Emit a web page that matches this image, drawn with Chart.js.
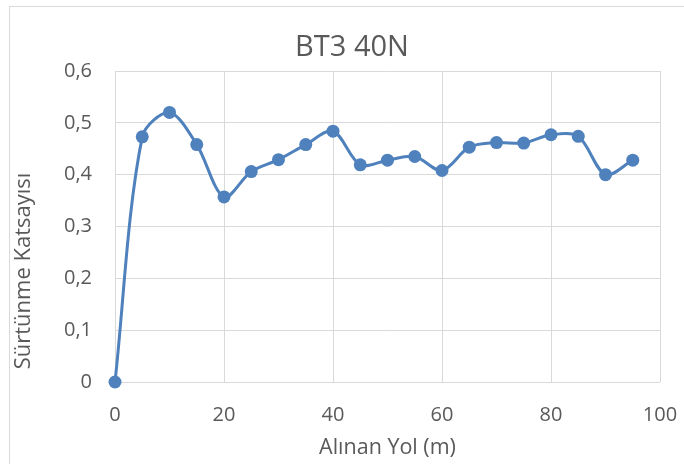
<!DOCTYPE html>
<html lang="tr">
<head>
<meta charset="utf-8">
<title>BT3 40N</title>
<script src="https://cdn.jsdelivr.net/npm/chart.js@4.4.1/dist/chart.umd.min.js"></script>
<style>
  html, body { margin: 0; padding: 0; background: #fff; overflow: hidden; }
  #wrap { position: relative; width: 684px; height: 464px; }
  #frame { position: absolute; left: 9px; top: 6px; width: 700px; height: 480px; border: 1px solid #d9d9d9; box-sizing: border-box; pointer-events: none; }
  canvas { position: absolute; left: 0; top: 0; }
</style>
</head>
<body>
<div id="wrap">
  <canvas id="friction-chart" width="684" height="464"></canvas>
  <div id="frame"></div>
</div>
<script>
// Alınan yol (m) ve sürtünme katsayısı ölçümleri
const distances = [0, 5, 10, 15, 20, 25, 30, 35, 40, 45, 50, 55, 60, 65, 70, 75, 80, 85, 90, 95];
const frictionCoef = [0, 0.473, 0.52, 0.458, 0.357, 0.406, 0.429, 0.458, 0.484, 0.419, 0.428, 0.435, 0.408, 0.453, 0.462, 0.461, 0.477, 0.474, 0.40, 0.428];

const chartTitle = 'BT3 40N';
const xTitle = 'Alınan Yol (m)';
const yTitle = 'Sürtünme Katsayısı';

const lineColor = '#4f81bd';
const textColor = '#595959';
const gridColor = '#d9d9d9';
const fontFamily = '"Open Sans", "Noto Sans", "Liberation Sans", sans-serif';

// chart title over the whole chart object, y title sits a bit lower than the plot centre
const chartTexts = {
  id: 'chartTexts',
  afterDraw(chart) {
    const { ctx } = chart;
    ctx.save();
    ctx.fillStyle = textColor;
    ctx.textAlign = 'center';
    ctx.textBaseline = 'middle';
    ctx.font = `400 29px ${fontFamily}`;
    ctx.fillText(chartTitle, 352, 48);
    ctx.translate(24, 271);
    ctx.rotate(-Math.PI / 2);
    ctx.font = `400 22px ${fontFamily}`;
    ctx.fillText(yTitle, 0, 0);
    ctx.restore();
  },
};

const ctx = document.getElementById('friction-chart');

new Chart(ctx, {
  type: 'line',
  data: {
    datasets: [{
      label: chartTitle,
      data: distances.map((d, i) => ({ x: d, y: frictionCoef[i] })),
      borderColor: lineColor,
      backgroundColor: lineColor,
      borderWidth: 3,
      pointRadius: 6.5,
      pointBorderWidth: 0,
      pointBackgroundColor: lineColor,
      tension: 0.32,
      clip: false,
    }],
  },
  options: {
    responsive: false,
    animation: false,
    layout: { padding: { top: 71, right: 24, bottom: 0, left: 0 } },
    plugins: {
      legend: { display: false },
      title: { display: false },
      tooltip: { enabled: false },
    },
    scales: {
      x: {
        type: 'linear',
        min: 0,
        max: 100,
        afterFit: (scale) => {
          scale.height = 82;
          scale.paddingLeft = 0;
          scale.paddingRight = 0;
        },
        ticks: {
          stepSize: 20,
          padding: 21,
          color: textColor,
          font: { family: fontFamily, size: 20 },
          maxRotation: 0,
        },
        grid: { color: gridColor, lineWidth: 1, drawTicks: false },
        border: { display: false },
        title: {
          display: true,
          text: xTitle,
          color: textColor,
          font: { family: fontFamily, size: 21.5 },
          padding: { top: 0, bottom: 3 },
        },
      },
      y: {
        min: 0,
        max: 0.6,
        afterFit: (scale) => { scale.width = 115; },
        ticks: {
          stepSize: 0.1,
          padding: 23,
          color: textColor,
          font: { family: fontFamily, size: 20 },
          callback: (value) => (value === 0 ? '0' : value.toFixed(1).replace('.', ',')),
        },
        grid: { color: gridColor, lineWidth: 1, drawTicks: false },
        border: { display: false },
        title: { display: false, text: yTitle },
      },
    },
  },
  plugins: [chartTexts],
});
</script>
</body>
</html>
